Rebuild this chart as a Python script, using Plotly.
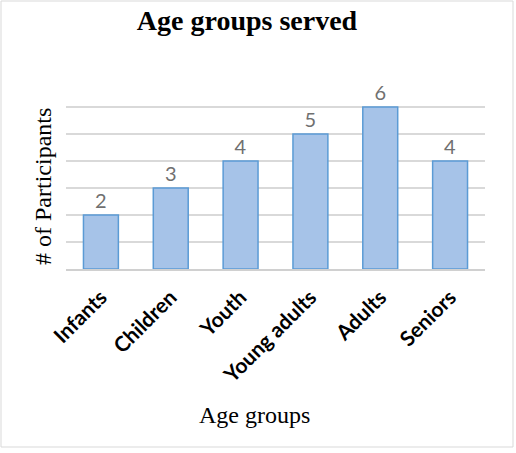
import plotly.graph_objects as go

categories = ["Infants", "Children", "Youth", "Young adults", "Adults", "Seniors"]
participants = [2, 3, 4, 5, 6, 4]

W, H = 516, 453
L, R, T, B = 66, 31, 80, 184
pw, ph = W - L - R, H - T - B


def px_x(x):
    return (x - L) / pw


def px_y(y):
    return (H - B - y) / ph


fig = go.Figure(
    go.Bar(
        x=categories,
        y=participants,
        marker=dict(color="#a6c3e8", line=dict(color="#5b9bd5", width=1.5)),
        text=[str(v) for v in participants],
        textposition="outside",
        textfont=dict(family="Lato", size=20, color="#707070"),
        cliponaxis=False,
    )
)

fig.update_layout(
    width=W,
    height=H,
    margin=dict(l=L, r=R, t=T, b=B),
    paper_bgcolor="white",
    plot_bgcolor="white",
    bargap=0.5,
    showlegend=False,
    title=dict(
        text="<b>Age groups served</b>",
        font=dict(family="Liberation Serif", size=28, color="black"),
        x=247 / W,
        xanchor="center",
        y=1 - 20 / H,
        yanchor="middle",
    ),
    shapes=[
        dict(
            type="rect",
            xref="paper", yref="paper",
            x0=px_x(1), x1=px_x(513), y0=px_y(447), y1=px_y(1),
            line=dict(color="#d9d9d9", width=1),
        )
    ],
    annotations=[
        dict(
            text="# of Participants",
            xref="paper", yref="paper",
            x=px_x(28), y=px_y(187),
            showarrow=False, textangle=-90,
            font=dict(family="Liberation Serif", size=24, color="black"),
        ),
        dict(
            text="Age groups",
            xref="paper", yref="paper",
            x=px_x(254), y=px_y(430),
            showarrow=False,
            font=dict(family="Liberation Serif", size=24, color="black"),
        ),
    ],
)

fig.update_xaxes(
    tickangle=-45,
    tickfont=dict(family="Lato", size=21, color="black", weight="bold"),
    ticklabelstandoff=6,
    showline=True, linecolor="#d0d0d0", linewidth=1.5,
    showgrid=False, ticks="",
)
fig.update_yaxes(
    range=[0, 7], dtick=1, showticklabels=False,
    showgrid=True, gridcolor="#d9d9d9", gridwidth=1.5,
    zeroline=False, showline=False,
)

fig.write_html("out.html")
